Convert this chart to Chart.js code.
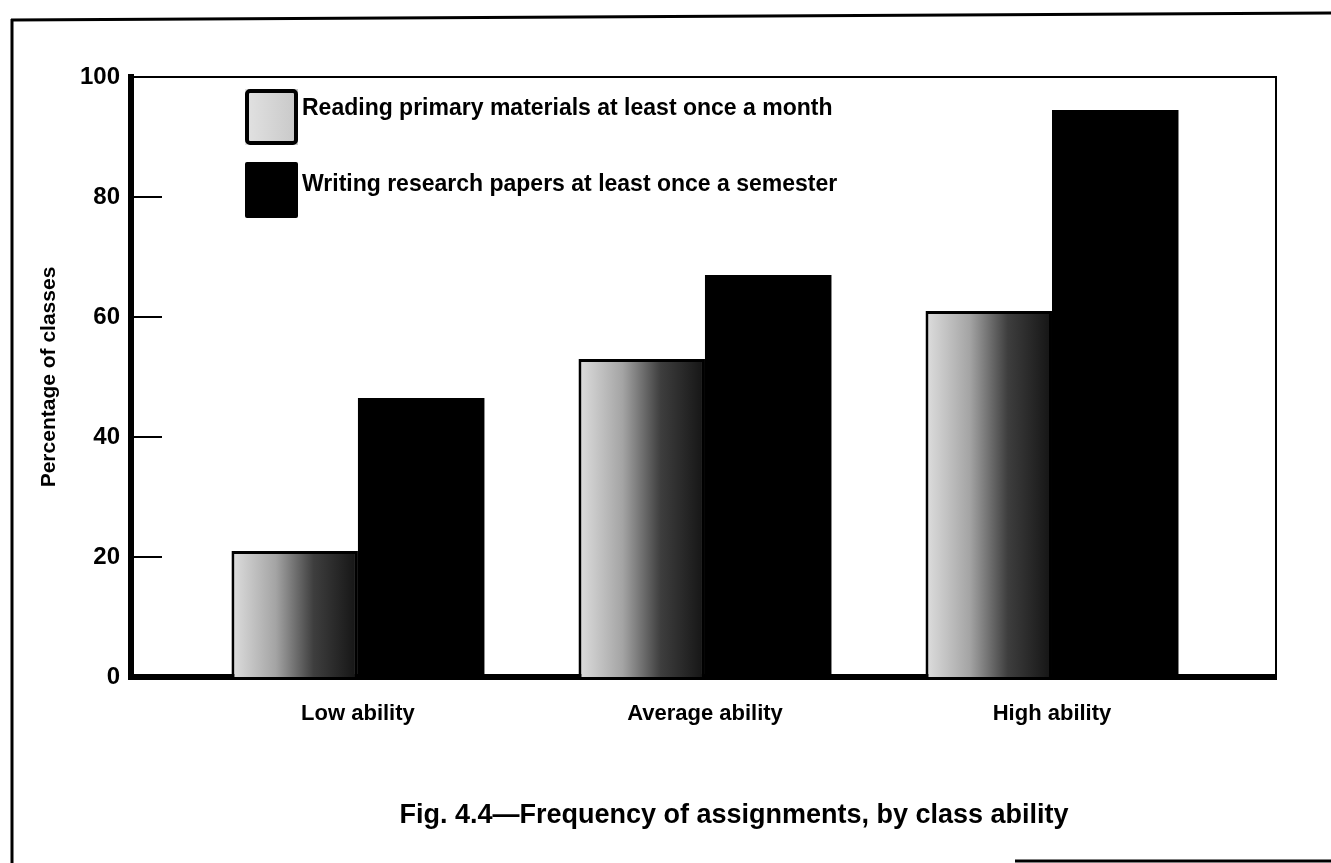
<!DOCTYPE html>
<html>
<head>
<meta charset="utf-8">
<script src="https://cdn.jsdelivr.net/npm/chart.js@4.4.1/dist/chart.umd.min.js"></script>
<style>
  html, body { margin: 0; padding: 0; background: #fff; }
  #wrap { width: 1331px; height: 863px; position: relative; }
</style>
</head>
<body>
<div id="wrap"><canvas id="c"></canvas></div>
<script>
// ---- data ----
const CATEGORIES = ['Low ability', 'Average ability', 'High ability'];
const READING = [21, 53, 61];
const WRITING = [46.5, 67, 94.5];
const SERIES_LABELS = [
  'Reading primary materials at least once a month',
  'Writing research papers at least once a semester'
];
const Y_TICKS = [0, 20, 40, 60, 80, 100];
const Y_TITLE = 'Percentage of classes';
const TITLE = 'Fig. 4.4\u2014Frequency of assignments, by class ability';

const FONT = '"Liberation Sans", Arial, Helvetica, sans-serif';

function lightFill(ctx) {
  const chart = ctx.chart;
  if (!chart.chartArea || !chart.scales || !chart.scales.x) return '#9a9a9a';
  const xs = chart.scales.x;
  const cx = xs.getPixelForValue(ctx.dataIndex);
  const step = Math.abs(xs.getPixelForValue(1) - xs.getPixelForValue(0));
  const w = step * 0.729 / 2;
  const g = chart.ctx.createLinearGradient(cx - w, 0, cx, 0);
  g.addColorStop(0, '#dedede');
  g.addColorStop(0.35, '#a4a4a4');
  g.addColorStop(0.65, '#3e3e3e');
  g.addColorStop(1, '#141414');
  return g;
}

const framePlugin = {
  id: 'frame',
  beforeDraw(chart) {
    const c = chart.ctx;
    c.save();
    c.fillStyle = '#fff';
    c.fillRect(0, 0, chart.width, chart.height);
    c.strokeStyle = '#000';
    c.lineWidth = 3;
    c.beginPath();
    c.moveTo(11, 20); c.lineTo(1331, 13);
    c.moveTo(12, 19); c.lineTo(12, 863);
    c.moveTo(1015, 861); c.lineTo(1331, 861);
    c.stroke();
    c.restore();
  },
  afterDatasetsDraw(chart) {
    const c = chart.ctx, a = chart.chartArea;
    c.save();
    c.strokeStyle = '#000';
    c.lineWidth = 2;
    c.beginPath();
    c.moveTo(a.left, a.top); c.lineTo(a.right, a.top); c.lineTo(a.right, a.bottom);
    c.stroke();
    // inward tick marks on y axis
    const ys = chart.scales.y;
    ys.ticks.forEach(t => {
      const y = ys.getPixelForValue(t.value);
      c.beginPath();
      c.moveTo(a.left, y); c.lineTo(a.left + 31, y);
      c.stroke();
    });
    c.restore();
  },
  afterDraw(chart) {
    const c = chart.ctx;
    c.save();
    // legend
    const rows = [{y: 89, ty: 109}, {y: 162, ty: 185}];
    chart.data.datasets.forEach((ds, i) => {
      const r = rows[i];
      const x = 245, w = 53, h = 56;
      if (i === 0) {
        const g = c.createLinearGradient(x, 0, x + w, 0);
        g.addColorStop(0, '#e2e2e2');
        g.addColorStop(1, '#c8c8c8');
        c.fillStyle = g;
        c.fillRect(x, r.y, w, h);
        c.strokeStyle = '#000';
        c.lineWidth = 4;
        c.beginPath();
        c.roundRect(x + 2, r.y + 2, w - 4, h - 4, 3);
        c.stroke();
      } else {
        c.fillStyle = '#000';
        c.beginPath();
        c.roundRect(x, r.y, w, h, 2);
        c.fill();
      }
      c.fillStyle = '#000';
      c.font = 'bold 23px ' + FONT;
      c.textAlign = 'left';
      c.textBaseline = 'middle';
      c.fillText(ds.label, x + w + 4, r.ty);
    });
    // caption
    c.font = 'bold 27px ' + FONT;
    c.textAlign = 'center';
    c.textBaseline = 'middle';
    c.fillStyle = '#000';
    c.fillText(TITLE, 734, 816);
    c.restore();
  }
};

new Chart(document.getElementById('c'), {
  type: 'bar',
  data: {
    datasets: [
      {
        label: SERIES_LABELS[0],
        data: READING.map((v, i) => ({x: i, y: v})),
        backgroundColor: lightFill,
        borderColor: '#000',
        borderWidth: 3,
        borderSkipped: 'bottom'
      },
      {
        label: SERIES_LABELS[1],
        data: WRITING.map((v, i) => ({x: i, y: v})),
        backgroundColor: '#000',
        borderWidth: 0
      }
    ]
  },
  options: {
    responsive: true,
    maintainAspectRatio: false,
    animation: false,
    layout: { padding: { top: 77, right: 55, left: 0, bottom: 0 } },
    datasets: { bar: { categoryPercentage: 0.729, barPercentage: 1 } },
    plugins: {
      legend: { display: false },
      title: { display: false },
      tooltip: { enabled: false }
    },
    scales: {
      x: {
        type: 'linear',
        z: 1,
        offset: false,
        min: -0.654,
        max: 2.6455,
        grid: { display: false, offset: false },
        border: { display: true, width: 6, color: '#000' },
        afterBuildTicks: (s) => { s.ticks = CATEGORIES.map((_, i) => ({ value: i })); },
        afterFit: (s) => { s.height = 186; },
        ticks: {
          autoSkip: false,
          maxRotation: 0,
          padding: 16,
          color: '#000',
          font: { family: FONT, size: 22, weight: 'bold' },
          callback: (v) => CATEGORIES[v]
        }
      },
      y: {
        min: 0,
        max: 100,
        z: 1,
        grid: { display: false },
        border: { display: true, width: 6, color: '#000' },
        afterBuildTicks: (s) => { s.ticks = Y_TICKS.map(v => ({ value: v })); },
        afterFit: (s) => { s.width = 131; },
        ticks: {
          padding: 3,
          color: '#000',
          font: { family: FONT, size: 24, weight: 'bold' }
        },
        title: {
          display: true,
          text: Y_TITLE,
          color: '#000',
          font: { family: FONT, size: 21, weight: 'bold' },
          padding: { top: 37, bottom: 0 }
        }
      }
    }
  },
  plugins: [framePlugin]
});
</script>
</body>
</html>
